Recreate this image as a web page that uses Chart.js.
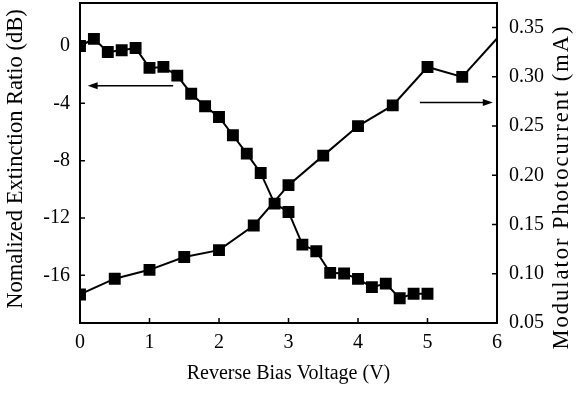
<!DOCTYPE html>
<html>
<head>
<meta charset="utf-8">
<script src="https://cdn.jsdelivr.net/npm/chart.js@4/dist/chart.umd.min.js"></script>
<style>
  html, body { margin: 0; padding: 0; background: #fff; }
  #wrap { width: 579px; height: 394px; }
</style>
</head>
<body>
<div id="wrap"><canvas id="chart" width="579" height="394"></canvas></div>
<script>
// extinction ratio (left axis, dB)
const extVoltage = [0, 0.2, 0.4, 0.6, 0.8, 1.0, 1.2, 1.4, 1.6, 1.8, 2.0, 2.2, 2.4, 2.6, 2.8,
  3.0, 3.2, 3.4, 3.6, 3.8, 4.0, 4.2, 4.4, 4.6, 4.8, 5.0];
const extRatio = [0, 0.5, -0.42, -0.3, -0.14, -1.53, -1.46, -2.07, -3.33, -4.21, -4.95, -6.23, -7.51, -8.86, -11.0,
  -11.58, -13.86, -14.32, -15.83, -15.88, -16.25, -16.83, -16.58, -17.6, -17.29, -17.29];

// photocurrent (right axis, mA)
const pcVoltage = [0, 0.5, 1.0, 1.5, 2.0, 2.5, 3.0, 3.5, 4.0, 4.5, 5.0, 5.5, 6.0];
const pcCurrent = [0.079, 0.095, 0.104, 0.117, 0.124, 0.149, 0.19, 0.22, 0.25, 0.271, 0.31, 0.30, 0.339];

const xTicks = [0, 1, 2, 3, 4, 5, 6];
const leftTicks = [-16, -12, -8, -4, 0];
const rightTicks = [0.05, 0.10, 0.15, 0.20, 0.25, 0.30, 0.35];

const leftTitle = "Nomalized Extinction Ratio (dB)";
const rightTitle = "Modulator Photocurrent (mA)";

// arrows pointing at the axis each curve belongs to
const leftArrow = { axis: "y", from: [1.34, -2.77], to: [0.11, -2.77] };
const rightArrow = { axis: "y1", from: [4.89, 0.274], to: [5.94, 0.274] };

const font = "'Liberation Serif', 'Times New Roman', serif";
const plotTop = 3;

function toPoints(xs, ys) {
  return xs.map((x, i) => ({ x, y: ys[i] }));
}

function drawArrow(ctx, chart, a) {
  const xs = chart.scales.x;
  const ys = chart.scales[a.axis];
  const x1 = xs.getPixelForValue(a.from[0]);
  const y1 = ys.getPixelForValue(a.from[1]);
  const x2 = xs.getPixelForValue(a.to[0]);
  const y2 = ys.getPixelForValue(a.to[1]);
  const dir = Math.sign(x2 - x1);
  ctx.beginPath();
  ctx.moveTo(x1, y1);
  ctx.lineTo(x2 - dir * 8, y2);
  ctx.lineWidth = 1.5;
  ctx.stroke();
  ctx.beginPath();
  ctx.moveTo(x2, y2);
  ctx.lineTo(x2 - dir * 10, y2 - 3.5);
  ctx.lineTo(x2 - dir * 10, y2 + 3.5);
  ctx.closePath();
  ctx.fill();
}

// vertical axis title, reading bottom to top
function drawTitle(ctx, text, cx, cy, size, spacing) {
  ctx.save();
  ctx.translate(cx, cy);
  ctx.rotate(-Math.PI / 2);
  ctx.font = size + "px " + font;
  ctx.textAlign = "center";
  ctx.textBaseline = "middle";
  if ("letterSpacing" in ctx) ctx.letterSpacing = spacing + "px";
  ctx.fillText(text, 0, 0);
  ctx.restore();
}

const framePlugin = {
  id: "frame",
  // pull the plot box up to the top edge, like the original figure
  afterLayout(chart) {
    try {
      const area = chart.chartArea;
      area.top = plotTop;
      area.height = area.bottom - plotTop;
      [chart.scales.y, chart.scales.y1].forEach(s => {
        s.top = plotTop;
        s.height = s.bottom - plotTop;
        s.configure();
      });
    } catch (e) {
      // keep the library layout
    }
  },
  afterDraw(chart) {
    const ctx = chart.ctx;
    const { left, right, top, bottom } = chart.chartArea;
    const x = chart.scales.x, y = chart.scales.y, y1 = chart.scales.y1;
    ctx.save();
    ctx.strokeStyle = "#000";
    ctx.fillStyle = "#000";

    // top edge of the box
    ctx.lineWidth = 2;
    ctx.beginPath();
    ctx.moveTo(left - 1, top);
    ctx.lineTo(right + 1, top);
    ctx.stroke();

    // inward tick marks
    ctx.lineWidth = 1.5;
    ctx.beginPath();
    xTicks.forEach(v => {
      const px = x.getPixelForValue(v);
      ctx.moveTo(px, bottom);
      ctx.lineTo(px, bottom - 5);
    });
    leftTicks.forEach(v => {
      const py = y.getPixelForValue(v);
      ctx.moveTo(left, py);
      ctx.lineTo(left + 5, py);
    });
    rightTicks.forEach(v => {
      const py = y1.getPixelForValue(v);
      ctx.moveTo(right, py);
      ctx.lineTo(right - 5, py);
    });
    ctx.stroke();

    drawArrow(ctx, chart, leftArrow);
    drawArrow(ctx, chart, rightArrow);

    drawTitle(ctx, leftTitle, 16, 159, 22.5, 0);
    drawTitle(ctx, rightTitle, 562, 187, 22.5, 2);
    ctx.restore();
  }
};

const noPadding = () => ({ left: 0, top: 0, right: 0, bottom: 0 });

function fitVertical(width) {
  return axis => {
    axis.width = width;
    axis.paddingTop = 0;
    axis.paddingBottom = 0;
    axis.getPadding = noPadding;
  };
}

function drawChart(location) {
  const ctx = document.getElementById(location).getContext("2d");

  new Chart(ctx, {
    type: "line",
    data: {
      datasets: [
        {
          label: "Nomalized Extinction Ratio",
          data: toPoints(extVoltage, extRatio),
          yAxisID: "y",
          borderColor: "#000",
          backgroundColor: "#000",
          borderWidth: 2,
          pointStyle: "rect",
          pointRadius: 7,
          tension: 0,
          clip: 0
        },
        {
          label: "Modulator Photocurrent",
          data: toPoints(pcVoltage, pcCurrent),
          yAxisID: "y1",
          borderColor: "#000",
          backgroundColor: "#000",
          borderWidth: 2,
          pointStyle: "rect",
          pointRadius: pcVoltage.map(v => (v >= 6 ? 0 : 7)),
          tension: 0,
          clip: 0
        }
      ]
    },
    options: {
      responsive: false,
      animation: false,
      layout: { padding: { top: plotTop, left: 0, right: 0, bottom: 0 } },
      plugins: {
        legend: { display: false },
        tooltip: { enabled: false }
      },
      scales: {
        x: {
          type: "linear",
          min: 0,
          max: 6,
          afterBuildTicks: axis => { axis.ticks = xTicks.map(v => ({ value: v })); },
          afterFit: axis => {
            axis.height = 71;
            axis.paddingLeft = 0;
            axis.paddingRight = 0;
            axis.getPadding = noPadding;
          },
          grid: { display: false, drawTicks: false },
          border: { display: true, color: "#000", width: 2 },
          ticks: { color: "#000", padding: 8, maxRotation: 0, font: { family: font, size: 20 } },
          title: {
            display: true,
            text: "Reverse Bias Voltage (V)",
            color: "#000",
            padding: { top: 0, bottom: 8 },
            font: { family: font, size: 20 }
          }
        },
        y: {
          position: "left",
          min: -19.33,
          max: 3.0,
          afterBuildTicks: axis => { axis.ticks = leftTicks.map(v => ({ value: v })); },
          afterFit: fitVertical(80),
          grid: { display: false, drawTicks: false },
          border: { display: true, color: "#000", width: 2 },
          ticks: { color: "#000", padding: 10, font: { family: font, size: 20 } }
        },
        y1: {
          position: "right",
          min: 0.05,
          max: 0.375,
          afterBuildTicks: axis => { axis.ticks = rightTicks.map(v => ({ value: v })); },
          afterFit: fitVertical(82),
          grid: { display: false, drawTicks: false },
          border: { display: true, color: "#000", width: 2 },
          ticks: {
            color: "#000",
            padding: 12,
            font: { family: font, size: 20 },
            callback: v => v.toFixed(2)
          }
        }
      }
    },
    plugins: [framePlugin]
  });
}

drawChart("chart");
</script>
</body>
</html>
